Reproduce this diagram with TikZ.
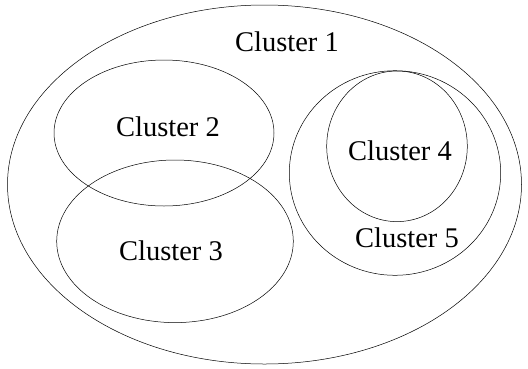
\documentclass[tikz,border=0pt]{standalone}
\usepackage{fontspec}
\setmainfont{Liberation Serif}
\begin{document}
\begin{tikzpicture}[x=1pt,y=-1pt,
  ring/.style={draw=black, line width=0.5pt},
  lbl/.style={font=\fontsize{28.5}{30}\selectfont, inner sep=0pt}]
\useasboundingbox (0,0) rectangle (528,368);
\draw[ring] (264.5,184.5) ellipse [x radius=257, y radius=179.5];
\draw[ring] (164,133) ellipse [x radius=110, y radius=73];
\draw[ring] (175,241.3) ellipse [x radius=118.3, y radius=81.3];
\draw[ring] (395,173) ellipse [x radius=105.7, y radius=102.3];
\draw[ring] (397,146.3) ellipse [x radius=70.3, y radius=75.3];
\node[lbl] (c1) at (287,41.7) {Cluster 1};
\node[lbl] (c2) at (168,126.7) {Cluster 2};
\node[lbl] (c3) at (171,250.7) {Cluster 3};
\node[lbl] (c4) at (400,151) {Cluster 4};
\node[lbl] (c5) at (407,238) {Cluster 5};
\end{tikzpicture}
\end{document}
